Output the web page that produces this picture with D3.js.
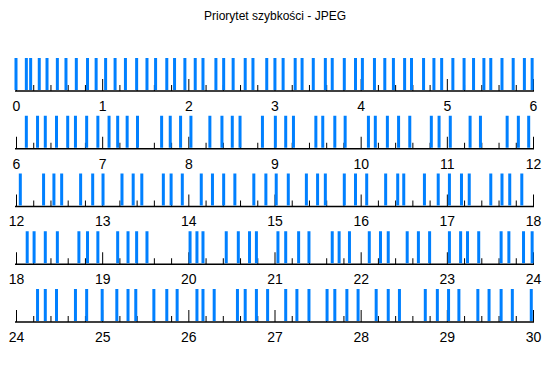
<!DOCTYPE html>
<html><head><meta charset="utf-8">
<script src="https://cdn.jsdelivr.net/npm/d3@7"></script>
<style>body{margin:0;background:#fff}svg{display:block}</style>
</head><body>
<svg id="chart" width="550" height="380"></svg>
<script>
const title = "Priorytet szybkości - JPEG";
const rowStarts = [0, 6, 12, 18, 24];
const row1Events = [0.0,0.12,0.17,0.27,0.36,0.48,0.58,0.70,0.83,0.93,1.04,1.15,1.27,1.40,1.52,1.62,1.75,1.84,1.96,2.08,2.17,2.32,2.41,2.52,2.66,2.75,2.91,
  3.005,3.10,3.24,3.32,3.45,3.59,3.67,3.81,3.94,4.02,4.16,4.28,4.38,4.51,4.59,4.73,4.85,4.94,5.07,5.20,5.31,5.43,5.51,5.64,5.77,5.90,5.99];
const row2Events = [6.12,6.25,6.34,6.47,6.60,6.69,6.82,6.95,7.08,7.18,7.29,7.41,7.69,7.79,7.91,8.03,8.25,8.39,8.51,8.60,8.86,9.01,
  9.13,9.22,9.48,9.56,9.70,9.82,10.09,10.17,10.31,10.44,10.57,10.82,10.91,11.04,11.27,11.39,11.70,11.83,11.95];
const row3Events = [12.05,12.32,12.44,12.53,12.75,12.89,13.01,13.23,13.36,13.46,13.71,13.80,13.93,14.15,14.28,14.41,14.54,14.76,14.90,
  15.02,15.16,15.37,15.50,15.59,15.81,15.94,16.07,16.29,16.43,16.50,16.74,16.90,17.03,17.17,17.26,17.51,17.64,17.73,17.87];
const row4Events = [18.13,18.21,18.34,18.48,18.73,18.83,18.95,19.18,19.30,19.40,19.52,20.02,20.10,20.17,20.44,20.58,20.71,20.79,
  21.04,21.13,21.28,21.40,21.67,21.75,21.87,22.10,22.23,22.32,22.54,22.67,22.80,23.03,23.16,23.24,23.37,23.63,23.72,23.89,23.99];
const row5Events = [24.25,24.34,24.47,24.69,24.82,25.00,25.17,25.30,25.39,25.60,25.75,25.87,26.10,26.17,26.30,26.57,26.66,26.79,26.92,
  27.13,27.26,27.40,27.61,27.70,27.84,27.97,28.18,28.32,28.45,28.75,28.89,29.02,29.14,29.36,29.49,29.63,29.76,29.98];
const rowEvents = [row1Events, row2Events, row3Events, row4Events, row5Events];

const svg = d3.select("#chart");
const font = "'Liberation Sans', Arial, sans-serif";
svg.append("text").attr("x", 275).attr("y", 20).attr("text-anchor", "middle")
  .attr("font-family", font).attr("font-size", 12).attr("fill", "#000").text(title);

const rowY = d3.scaleLinear().domain([0, 4]).range([91, 322]);
const barH = 33;

rowStarts.forEach((s, i) => {
  const x = d3.scaleLinear().domain([s, s + 6]).range([16, 533]);
  const g = svg.append("g").attr("transform", `translate(0,${rowY(i)})`);
  const minor = d3.range(0, 31).map(k => s + k * 0.2).filter(v => Math.abs(v - Math.round(v)) > 1e-6);
  const major = d3.range(s, s + 7);
  const gm = g.append("g").call(d3.axisTop(x).tickValues(minor).tickSize(6).tickFormat(""));
  const gM = g.append("g").call(d3.axisTop(x).tickValues(major).tickSize(12).tickFormat(""));
  [gm, gM].forEach(a => { a.select(".domain").remove(); a.selectAll("line").attr("stroke", "#000"); });
  g.append("line").attr("x1", x(s) - 1).attr("x2", x(s + 6) + 1).attr("y1", 0).attr("y2", 0)
    .attr("stroke", "#000").attr("stroke-width", 1.6);
  const gl = g.append("g").call(d3.axisBottom(x).tickValues(major).tickSize(0).tickPadding(10).tickFormat(d3.format("d")));
  gl.select(".domain").remove();
  gl.selectAll("text").attr("font-family", font).attr("font-size", 14).attr("fill", "#000");
  g.selectAll("rect.ev").data(rowEvents[i]).join("rect").attr("class", "ev")
    .attr("x", d => x(d) - 1.5).attr("width", 3).attr("y", -barH).attr("height", barH - 1)
    .attr("fill", "#0080ff");
});
</script>
</body></html>
